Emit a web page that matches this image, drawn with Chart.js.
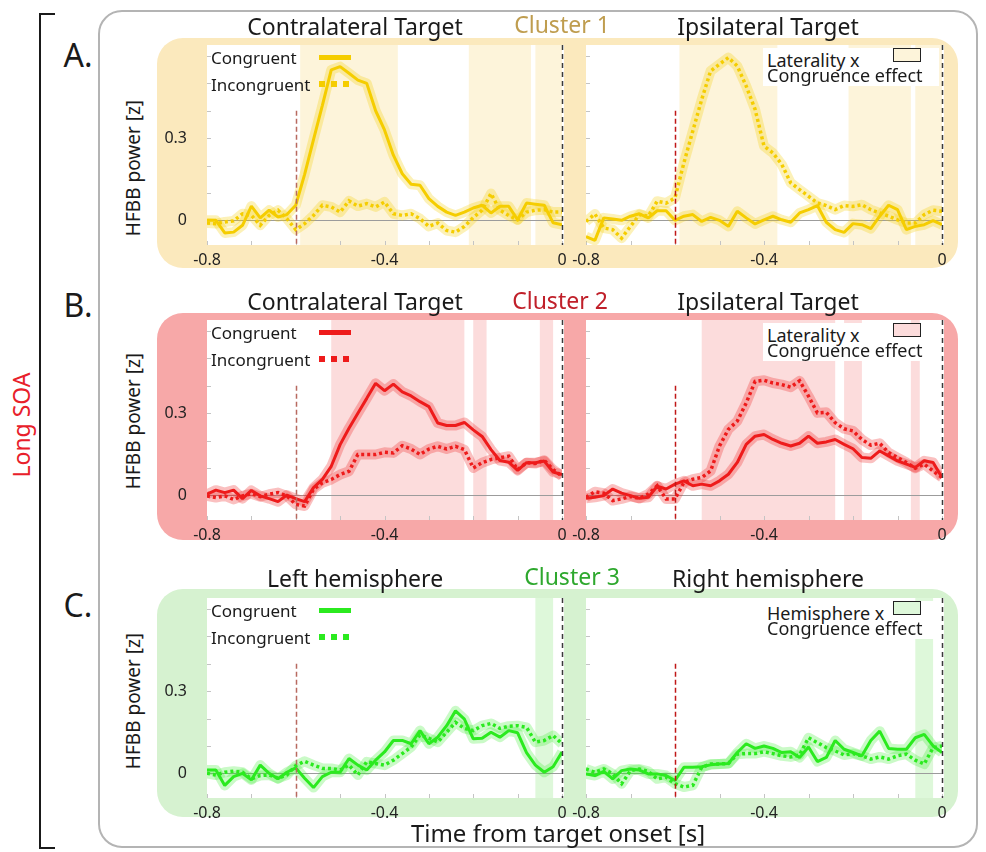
<!DOCTYPE html>
<html>
<head>
<meta charset="utf-8">
<title>HFBB power – Long SOA</title>
<script src="https://cdn.jsdelivr.net/npm/chart.js@4.4.1/dist/chart.umd.min.js"></script>
<style>
html,body{margin:0;padding:0;background:#fff;}
body{width:986px;height:852px;position:relative;overflow:hidden;font-family:"Noto Sans",sans-serif;color:#1a1a1a;}
.abs{position:absolute;}
.frame{left:98px;top:10px;width:880px;height:838px;border:2px solid #b4b4b4;border-radius:24px;box-sizing:border-box;}
.bracket{left:39px;top:13px;width:16px;height:836px;border:2px solid #1a1a1a;border-right:none;box-sizing:border-box;}
.panel{left:157px;width:801px;border-radius:26px;}
.title{font-size:23px;white-space:nowrap;transform:translate(-50%,-50%);line-height:1;z-index:3;}
.rot{white-space:nowrap;transform:translate(-50%,-50%) rotate(-90deg);line-height:1;z-index:3;}
.letter{font-size:32px;transform:translate(-50%,-50%);line-height:1;z-index:3;}
.leg{font-size:17px;white-space:nowrap;line-height:1;transform:translateY(-50%);z-index:3;}
.eff{font-size:18px;white-space:nowrap;line-height:1;transform:translateY(-50%);z-index:4;}
.effbox{background:#fff;z-index:3;}
canvas{position:absolute;z-index:2;}
</style>
</head>
<body>
<script>
// ================= DATA =================
const timePoints = [-0.80,-0.78,-0.76,-0.74,-0.72,-0.70,-0.68,-0.66,-0.64,-0.62,-0.60,-0.58,-0.56,-0.54,-0.52,-0.50,-0.48,-0.46,-0.44,-0.42,-0.40,-0.38,-0.36,-0.34,-0.32,-0.30,-0.28,-0.26,-0.24,-0.22,-0.20,-0.18,-0.16,-0.14,-0.12,-0.10,-0.08,-0.06,-0.04,-0.02,0.00];
const xTickValues = [-0.8,-0.7,-0.6,-0.5,-0.4,-0.3,-0.2,-0.1,0];
const xTickLabels = ['-0.8','','','','-0.4','','','','0'];
const yTickValues = [0,0.1,0.2,0.3,0.4,0.5,0.6];
const yTickLabels = ['0','','','0.3','','',''];
const cueOnset = -0.6;
const targetOnset = 0;
const cueMarkerTop = 0.4;

// A – Cluster 1
const aContraCongruent   = [0.00,0.00,-0.046,-0.043,-0.018,0.052,0.009,0.037,0.012,0.021,0.055,0.168,0.295,0.42,0.549,0.561,0.537,0.512,0.50,0.40,0.33,0.238,0.17,0.132,0.128,0.079,0.051,0.030,0.018,0.030,0.045,0.055,0.027,0.051,0.051,0.002,0.063,0.059,0.055,-0.009,-0.016];
const aContraIncongruent = [-0.01,-0.012,-0.006,-0.002,0.024,0.018,-0.018,0.018,0.037,0.006,-0.034,-0.012,0.018,0.055,0.049,0.030,0.071,0.052,0.061,0.049,0.067,0.024,0.018,0.024,0.006,-0.022,-0.010,-0.037,-0.043,-0.022,0.010,0.037,0.098,0.037,0.018,0.002,0.030,0.037,0.039,0.030,0.030];
const aIpsiCongruent     = [-0.059,-0.073,0.009,0.005,0,0.015,0.024,0.009,0.035,0.035,0,0.015,0.021,-0.004,0.011,0,-0.022,0.033,0.009,-0.013,0.002,0.015,0.002,-0.007,0.027,0.039,0.054,-0.007,-0.034,-0.044,-0.012,-0.016,-0.03,0.015,0.055,0.039,-0.034,-0.022,-0.016,-0.001,-0.016];
const aIpsiIncongruent   = [-0.004,0.023,-0.028,-0.034,-0.065,-0.022,0.021,0.015,0.07,0.063,0.082,0.21,0.326,0.441,0.545,0.57,0.594,0.563,0.49,0.405,0.271,0.246,0.204,0.137,0.112,0.088,0.063,0.054,0.039,0.054,0.051,0.057,0.039,0.027,0.015,0.002,-0.01,-0.01,0.021,0.037,0.033];
const aContraSignificant = [[-0.59,-0.37],[-0.21,-0.07],[-0.06,0]];
const aIpsiSignificant   = [[-0.59,-0.37],[-0.21,-0.07],[-0.06,0]];

// B – Cluster 2
const bContraCongruent   = [0.004,0.019,0.01,0.019,-0.012,0.018,-0.002,-0.012,-0.023,0.001,-0.012,-0.023,0.028,0.058,0.106,0.185,0.245,0.30,0.354,0.409,0.382,0.406,0.378,0.363,0.342,0.324,0.264,0.255,0.255,0.266,0.239,0.215,0.167,0.127,0.121,0.091,0.119,0.119,0.125,0.085,0.076];
const bContraIncongruent = [-0.002,-0.008,-0.002,-0.015,-0.002,0.006,-0.005,0.004,0.01,-0.002,-0.033,-0.039,0.022,0.046,0.058,0.076,0.088,0.149,0.149,0.149,0.157,0.155,0.181,0.169,0.149,0.169,0.179,0.169,0.179,0.167,0.10,0.119,0.131,0.137,0.143,0.094,0.119,0.116,0.128,0.094,0.070];
const bIpsiCongruent     = [-0.011,-0.007,-0.001,0.023,0.008,-0.001,-0.011,-0.007,0.033,0.023,0.041,0.053,0.035,0.041,0.035,0.053,0.077,0.12,0.186,0.216,0.222,0.204,0.19,0.18,0.19,0.216,0.19,0.195,0.204,0.186,0.17,0.138,0.135,0.162,0.144,0.126,0.114,0.102,0.126,0.12,0.065];
const bIpsiIncongruent   = [-0.007,0.013,0.008,-0.019,-0.013,-0.004,-0.011,0.005,0.035,-0.013,-0.013,0.047,0.059,0.065,0.089,0.18,0.241,0.271,0.337,0.416,0.42,0.41,0.404,0.395,0.418,0.362,0.301,0.303,0.265,0.243,0.235,0.204,0.183,0.19,0.156,0.138,0.12,0.099,0.114,0.089,0.065];
const bContraSignificant = [[-0.52,-0.22],[-0.20,-0.17],[-0.05,-0.02]];
const bIpsiSignificant   = [[-0.54,-0.24],[-0.22,-0.18],[-0.07,-0.05]];

// C – Cluster 3
const cLeftCongruent     = [0.012,0.012,-0.044,-0.012,0,-0.024,0.03,0,-0.02,0.004,0.02,-0.018,-0.052,-0.012,0.004,0.004,0.054,0.03,0.012,0.048,0.078,0.12,0.12,0.108,0.156,0.108,0.132,0.174,0.228,0.198,0.126,0.128,0.15,0.132,0.156,0.148,0.076,0.03,0.004,0.024,0.078];
const cLeftIncongruent   = [0,-0.006,0.004,0.008,0.004,-0.02,-0.008,-0.006,-0.018,-0.006,0.028,0.044,0.03,0.018,0.018,0.012,0.03,-0.006,0.042,0.036,0.03,0.048,0.072,0.096,0.14,0.128,0.114,0.15,0.186,0.164,0.156,0.174,0.182,0.164,0.172,0.174,0.168,0.114,0.12,0.138,0.108];
const cRightCongruent    = [-0.002,-0.008,0.007,-0.02,0.01,0.016,0.012,-0.002,-0.002,-0.008,-0.026,0.022,0.022,0.024,0.031,0.034,0.036,0.076,0.108,0.091,0.10,0.091,0.076,0.079,0.058,0.096,0.043,0.058,0.12,0.088,0.076,0.064,0.12,0.154,0.091,0.088,0.088,0.13,0.142,0.10,0.076];
const cRightIncongruent  = [0.016,0.004,0.016,-0.002,-0.038,0.01,0.016,0.007,-0.02,-0.014,-0.038,-0.05,-0.044,0.022,0.034,0.034,0.036,0.07,0.072,0.072,0.079,0.072,0.064,0.06,0.067,0.13,0.112,0.094,0.082,0.067,0.072,0.064,0.052,0.06,0.052,0.064,0.07,0.048,0.034,0.094,0.10];
const cLeftSignificant   = [[-0.06,-0.02]];
const cRightSignificant  = [[-0.06,-0.02]];

// ================= LAYOUT / STYLE =================
const plotX = [{left:207, right:562}, {left:586, right:942}];
const rows = [
  {plotTop:45, panelTop:38, panelHeight:230, titleY:26, clusterY:24, clusterX:562, yTitleY:168, letter:'A.', letterY:55,
   cluster:'Cluster 1', clusterColor:'#bf9d4f', titles:['Contralateral Target','Ipsilateral Target'], effect:'Laterality x',
   panel:'#fbe9bd', shade:'#fdf4da', line:'#f5cd00', band:'rgba(245,205,0,0.28)',
   series:[[aContraCongruent,aContraIncongruent,aContraSignificant],[aIpsiCongruent,aIpsiIncongruent,aIpsiSignificant]]},
  {plotTop:320, panelTop:313, panelHeight:227, titleY:301, clusterY:300, clusterX:560, yTitleY:421, letter:'B.', letterY:305,
   cluster:'Cluster 2', clusterColor:'#c0202a', titles:['Contralateral Target','Ipsilateral Target'], effect:'Laterality x',
   panel:'#f7a8a8', shade:'#fcdcdc', line:'#ee1b1b', band:'rgba(238,27,27,0.28)',
   series:[[bContraCongruent,bContraIncongruent,bContraSignificant],[bIpsiCongruent,bIpsiIncongruent,bIpsiSignificant]]},
  {plotTop:598, panelTop:589, panelHeight:228, titleY:578, clusterY:576, clusterX:572, yTitleY:701, letter:'C.', letterY:605,
   cluster:'Cluster 3', clusterColor:'#2ea82e', titles:['Left hemisphere','Right hemisphere'], effect:'Hemisphere x',
   panel:'#d6f2d0', shade:'#def8da', line:'#2bea1f', band:'rgba(43,234,31,0.25)',
   series:[[cLeftCongruent,cLeftIncongruent,cLeftSignificant],[cRightCongruent,cRightIncongruent,cRightSignificant]]}
];
const titleX = [355, 768];
const cueColors = ['#b86a60', '#c01818'];

function el(cls, css, text) {
  const d = document.createElement('div');
  d.className = 'abs ' + cls;
  Object.assign(d.style, css);
  if (text !== undefined) d.textContent = text;
  document.body.appendChild(d);
  return d;
}

// static frame
el('frame', {});
el('bracket', {});
el('rot', {left:'21px', top:'425px', fontSize:'23px', color:'#e8202a'}, 'Long SOA');
el('title', {left:'558px', top:'833px', fontSize:'24px'}, 'Time from target onset [s]');

Chart.defaults.font.family = "'Noto Sans', sans-serif";
Chart.defaults.color = '#222';

const decorPlugin = {
  id: 'decor',
  beforeDatasetsDraw(chart, args, o) {
    const {ctx, chartArea: a} = chart;
    const xs = chart.scales.x, ys = chart.scales.y;
    ctx.save();
    ctx.fillStyle = '#ffffff';
    ctx.fillRect(a.left, a.top, a.right - a.left + 2, a.bottom - a.top);
    ctx.fillStyle = o.shade;
    o.intervals.forEach(([s, e]) => {
      const x1 = xs.getPixelForValue(s), x2 = xs.getPixelForValue(e);
      ctx.fillRect(x1, a.top, x2 - x1, a.bottom - a.top);
    });
    ctx.strokeStyle = '#c4c4c4'; ctx.lineWidth = 1; ctx.beginPath();
    xs.ticks.forEach(t => { const p = Math.round(xs.getPixelForValue(t.value)) + 0.5; ctx.moveTo(p, a.bottom); ctx.lineTo(p, a.bottom - 4); });
    ys.ticks.forEach(t => { const p = Math.round(ys.getPixelForValue(t.value)) + 0.5; ctx.moveTo(a.left, p); ctx.lineTo(a.left + 4, p); });
    ctx.stroke();
    const z = Math.round(ys.getPixelForValue(0)) + 0.5;
    ctx.strokeStyle = '#9c9c9c'; ctx.beginPath(); ctx.moveTo(a.left, z); ctx.lineTo(a.right, z); ctx.stroke();
    ctx.restore();
  },
  afterDatasetsDraw(chart, args, o) {
    const {ctx, chartArea: a} = chart;
    const xs = chart.scales.x, ys = chart.scales.y;
    ctx.save();
    ctx.lineWidth = 1.5;
    ctx.setLineDash([5, 3]);
    ctx.strokeStyle = o.cueColor;
    let p = Math.round(xs.getPixelForValue(o.cue)) + 0.5;
    ctx.beginPath(); ctx.moveTo(p, ys.getPixelForValue(o.cueTop)); ctx.lineTo(p, a.bottom); ctx.stroke();
    ctx.strokeStyle = '#3a3a3a'; ctx.setLineDash([5, 4]);
    p = Math.round(xs.getPixelForValue(o.target)) + 0.5;
    ctx.beginPath(); ctx.moveTo(p, a.top); ctx.lineTo(p, a.bottom); ctx.stroke();
    ctx.restore();
  }
};

const toXY = arr => timePoints.map((t, i) => ({x: t, y: arr[i]}));
const Y_AXIS_W = 60, PAD_TOP = 10, PAD_RIGHT = 6, X_AXIS_H = 30, PLOT_H = 200;

function buildChart(row, side) {
  const [cong, incong, intervals] = row.series[side];
  const px = plotX[side];
  const canvas = document.createElement('canvas');
  const w = Y_AXIS_W + (px.right - px.left) + PAD_RIGHT;
  const h = PAD_TOP + PLOT_H + X_AXIS_H;
  canvas.width = w; canvas.height = h;
  Object.assign(canvas.style, {left: (px.left - Y_AXIS_W) + 'px', top: (row.plotTop - PAD_TOP) + 'px', width: w + 'px', height: h + 'px'});
  document.body.appendChild(canvas);
  const showY = side === 0;
  return new Chart(canvas, {
    type: 'line',
    data: {datasets: [
      {label: 'Congruent', data: toXY(cong), borderColor: row.line, borderWidth: 3, pointRadius: 0, tension: 0, borderJoinStyle: 'bevel'},
      {label: 'Incongruent', data: toXY(incong), borderColor: row.line, borderWidth: 3.5, borderDash: [3, 3], pointRadius: 0, tension: 0},
      {label: 'Congruent SEM', data: toXY(cong), borderColor: row.band, borderWidth: 10, pointRadius: 0, tension: 0, borderJoinStyle: 'round'},
      {label: 'Incongruent SEM', data: toXY(incong), borderColor: row.band, borderWidth: 10, pointRadius: 0, tension: 0, borderJoinStyle: 'round'}
    ]},
    options: {
      responsive: false, animation: false, devicePixelRatio: 1,
      events: [],
      layout: {padding: {top: PAD_TOP, right: PAD_RIGHT, left: 0, bottom: 0}},
      plugins: {
        legend: {display: false}, tooltip: {enabled: false},
        decor: {shade: row.shade, intervals: intervals, cue: cueOnset, cueTop: cueMarkerTop, target: targetOnset, cueColor: cueColors[side]}
      },
      scales: {
        x: {type: 'linear', min: -0.8, max: 0,
            grid: {display: false, drawTicks: false}, border: {display: false},
            afterBuildTicks: s => { s.ticks = xTickValues.map(v => ({value: v})); },
            afterFit: s => { s.height = X_AXIS_H; s.paddingLeft = 0; s.paddingRight = 0; },
            ticks: {autoSkip: false, maxRotation: 0, minRotation: 0, padding: 6, color: '#222', font: {size: 16},
                    callback: (v, i) => xTickLabels[i]}},
        y: {type: 'linear', min: -0.09, max: 0.64,
            grid: {display: false, drawTicks: false}, border: {display: false},
            afterBuildTicks: s => { s.ticks = yTickValues.map(v => ({value: v})); },
            afterFit: s => { s.width = Y_AXIS_W; s.paddingTop = 0; s.paddingBottom = 0; },
            ticks: {autoSkip: false, padding: 20, color: '#222', font: {size: 16},
                    callback: (v, i) => showY ? yTickLabels[i] : ''}}
      }
    },
    plugins: [decorPlugin]
  });
}

rows.forEach(row => {
  el('panel', {top: row.panelTop + 'px', height: row.panelHeight + 'px', background: row.panel});
  el('letter', {left: '78px', top: row.letterY + 'px'}, row.letter);
  el('rot', {left: '133px', top: row.yTitleY + 'px', fontSize: '19px'}, 'HFBB power [z]');
  el('title', {left: titleX[0] + 'px', top: row.titleY + 'px'}, row.titles[0]);
  el('title', {left: titleX[1] + 'px', top: row.titleY + 'px'}, row.titles[1]);
  el('title', {left: row.clusterX + 'px', top: row.clusterY + 'px', color: row.clusterColor}, row.cluster);

  buildChart(row, 0);
  buildChart(row, 1);

  // left legend
  const lx = plotX[0].left + 4;
  el('leg', {left: lx + 'px', top: (row.plotTop + 12) + 'px'}, 'Congruent');
  el('leg', {left: lx + 'px', top: (row.plotTop + 39) + 'px'}, 'Incongruent');
  el('', {left: '319px', top: (row.plotTop + 10) + 'px', width: '32px', height: '5px', background: row.line, zIndex: 3});
  el('', {left: '319px', top: (row.plotTop + 36) + 'px', width: '30px', height: '6px', zIndex: 3,
          background: `repeating-linear-gradient(90deg, ${row.line} 0 6px, transparent 6px 12px)`});

  // right legend (interaction effect)
  el('effbox', {left: '763px', top: (row.plotTop + 3) + 'px', width: '176px', height: '38px'});
  el('eff', {left: '767px', top: (row.plotTop + 15) + 'px'}, row.effect);
  el('eff', {left: '767px', top: (row.plotTop + 30) + 'px'}, 'Congruence effect');
  el('', {left: '893px', top: (row.plotTop + 3) + 'px', width: '28px', height: '14px', background: row.shade,
          border: '1.5px solid #222', boxSizing: 'border-box', zIndex: 4});
});
</script>
</body>
</html>
